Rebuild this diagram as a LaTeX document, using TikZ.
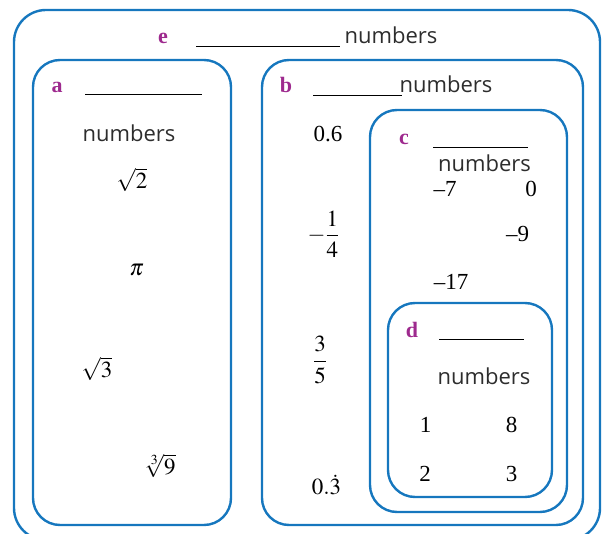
\documentclass[tikz,border=0pt]{standalone}
\usepackage{amsmath}
\usepackage{mathptmx}
\usepackage[no-math]{fontspec}
\setmainfont{Liberation Serif}
\newfontfamily\setsans{Open Sans}
\definecolor{setblue}{RGB}{22,119,190}
\definecolor{setpurple}{RGB}{158,42,142}
\definecolor{textgray}{RGB}{45,45,45}
\newcommand{\figsize}{\fontsize{22}{26}\selectfont}
\newcommand{\numsize}{\fontsize{23}{27}\selectfont}

\begin{document}
\begin{tikzpicture}[x=1pt, y=-1pt, font=\figsize,
    setbox/.style={draw=setblue, line width=2.4pt, rectangle, rounded corners=27pt, inner sep=0pt},
    setlbl/.style={anchor=base, text=setpurple, font=\figsize\bfseries},
    setname/.style={anchor=base, text=textgray, font=\figsize\setsans},
    blankline/.style={inner sep=0pt},
    num/.style={anchor=base, font=\numsize},
    frc/.style={anchor=center, font=\numsize}
]
\useasboundingbox (0,0) rectangle (603,534);

% Sets
\node[setbox, rounded corners=32pt, minimum width=586pt, minimum height=530pt] (setE) at (307, 275) {};
\node[setbox, minimum width=198pt, minimum height=465pt] (setA) at (132, 292.5) {};
\node[setbox, minimum width=321pt, minimum height=465pt] (setB) at (422.5, 292.5) {};
\node[setbox, minimum width=197pt, minimum height=402pt] (setC) at (468.5, 311) {};
\node[setbox, minimum width=164pt, minimum height=194pt] (setD) at (470, 400) {};

% Headings
\node[setlbl] (lblE) at (163, 44) {e};
\node[blankline] (blankE) at (268, 46) {\rule{144pt}{0.8pt}};
\node[setname] (nameE) at (391, 44) {numbers};

\node[setlbl] (lblA) at (57, 93) {a};
\node[blankline] (blankA) at (143.5, 94) {\rule{117pt}{0.8pt}};
\node[setname] (nameA) at (129, 142) {numbers};

\node[setlbl] (lblB) at (286, 93) {b};
\node[blankline] (blankB) at (357.5, 95) {\rule{89pt}{0.8pt}};
\node[setname] (nameB) at (446, 93) {numbers};

\node[setlbl] (lblC) at (404, 145) {c};
\node[blankline] (blankC) at (480.5, 147) {\rule{95pt}{0.8pt}};
\node[setname] (nameC) at (484.5, 172) {numbers};

\node[setlbl] (lblD) at (412, 338) {d};
\node[blankline] (blankD) at (481.5, 339) {\rule{85pt}{0.8pt}};
\node[setname] (nameD) at (484, 385) {numbers};

% Members
\node[num] (sqrtTwo) at (132, 189) {$\sqrt{2}$};
\node[num] (piA) at (136.5, 276) {$\pi$};
\node[num] (sqrtThree) at (97, 378) {$\sqrt{3}$};
\node[num] (cbrtNine) at (160, 475) {$\sqrt[3]{9}$};

\node[num] (decSix) at (328, 142) {0.6};
\node[frc] (negQuarter) at (323.5, 234) {$-\dfrac{1}{4}$};
\node[frc] (threeFifths) at (320, 360) {$\dfrac{3}{5}$};
\node[num] (decThree) at (326.5, 495) {$0.\dot{3}$};

\node[num] (negSeven) at (445, 197) {\textendash7};
\node[num] (zero) at (531, 197) {0};
\node[num] (negNine) at (517.5, 242) {\textendash9};
\node[num] (negSeventeen) at (451, 290) {\textendash17};

\node[num] (one) at (425.5, 433) {1};
\node[num] (eight) at (511.5, 433) {8};
\node[num] (two) at (425, 482) {2};
\node[num] (three) at (511.5, 482) {3};
\end{tikzpicture}
\end{document}
